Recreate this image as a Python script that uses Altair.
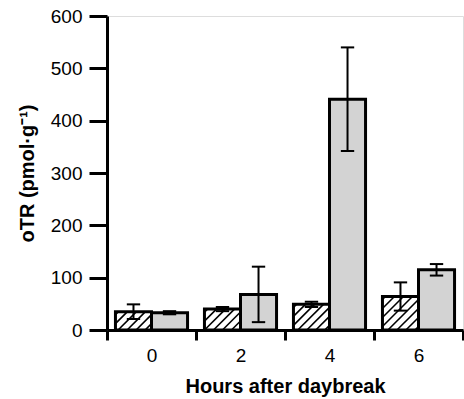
import altair as alt
import pandas as pd

# ---- data ----
hours = [0, 2, 4, 6]
hatched_vals = [35, 40, 49, 64]
hatched_err = [14, 4, 5, 27]
grey_vals = [33, 68, 441, 115]
grey_err = [3, 53, 99, 11]
x_tick_values = [-1, 1, 3, 5, 7]
y_tick_values = list(range(0, 601, 50))

# ---- layout / style ----
W, H = 356, 314
X_DOMAIN = [-1, 7]
Y_DOMAIN = [0, 600]
BAR_W = 0.81          # bar width in hours
CAP_W = 0.15          # half cap width in hours
PX_H = W / (X_DOMAIN[1] - X_DOMAIN[0])
PX_V = H / (Y_DOMAIN[1] - Y_DOMAIN[0])
HATCH_STEP = 9        # px between hatch lines
FONT = "Liberation Sans"

rows = []
for h, v, e in zip(hours, hatched_vals, hatched_err):
    rows.append(dict(hour=h, grp="hatched", x0=h - BAR_W, x1=h, xc=h - BAR_W / 2, v=v, e=e))
for h, v, e in zip(hours, grey_vals, grey_err):
    rows.append(dict(hour=h, grp="grey", x0=h, x1=h + BAR_W, xc=h + BAR_W / 2, v=v, e=e))
df = pd.DataFrame(rows)
df["lo"] = df.v - df.e
df["hi"] = df.v + df.e
df["c0"] = df.xc - CAP_W
df["c1"] = df.xc + CAP_W

# hatch lines "/" derived from the hatched bars, clipped to each bar
hl = []
for _, r in df[df.grp == "hatched"].iterrows():
    bw = BAR_W * PX_H
    hp = r.v * PX_V
    s = -hp + 3
    while s < bw:
        lx, ly = (s, 0.0) if s >= 0 else (0.0, -s)
        if s + hp <= bw:
            ux, uy = s + hp, hp
        else:
            ux, uy = bw, bw - s
        if uy > ly and ux > lx:
            hl.append(dict(xa=r.x0 + lx / PX_H, ya=ly / PX_V, xb=r.x0 + ux / PX_H, yb=uy / PX_V))
        s += HATCH_STEP
hdf = pd.DataFrame(hl)

xscale = alt.Scale(domain=X_DOMAIN, nice=False, zero=False)
yscale = alt.Scale(domain=Y_DOMAIN, nice=False)

base = alt.Chart(df)

bars = base.mark_rect(strokeWidth=0).encode(
    x=alt.X("x0:Q", scale=xscale,
            axis=alt.Axis(values=x_tick_values, title="Hours after daybreak",
                          labelExpr="datum.value < 7 ? format(datum.value + 1, 'd') : ''",
                          labelOffset=PX_H, labelFlush=False, labelOverlap=False,
                          tickSize=10, tickWidth=3, tickColor="black",
                          domainWidth=3, domainColor="black",
                          labelFontSize=19, labelPadding=6, labelFont=FONT, labelColor="black",
                          titleFontSize=20, titleFont=FONT, titleFontWeight="bold", titleColor="black",
                          titlePadding=11, grid=False)),
    x2="x1:Q",
    y=alt.Y("v:Q", scale=yscale,
            axis=alt.Axis(values=y_tick_values, title="oTR (pmol·g⁻¹)",
                          labelExpr="datum.value % 100 === 0 ? datum.label : ''",
                          tickSize={"condition": {"test": "datum.value % 100 !== 0", "value": 10}, "value": 18},
                          tickWidth=3, tickColor="black",
                          domainWidth=3, domainColor="black",
                          labelFontSize=19, labelPadding=7, labelFont=FONT, labelColor="black",
                          titleFontSize=20, titleFont=FONT, titleFontWeight="bold", titleColor="black",
                          titlePadding=13, grid=False)),
    y2=alt.Y2(datum=0),
    color=alt.Color("grp:N", scale=alt.Scale(domain=["hatched", "grey"], range=["white", "#d3d3d3"]), legend=None),
)

hatch = alt.Chart(hdf).mark_rule(color="black", strokeWidth=1.6).encode(
    x=alt.X("xa:Q", scale=xscale), y=alt.Y("ya:Q", scale=yscale),
    x2="xb:Q", y2="yb:Q",
)

outlines = base.mark_rect(fillOpacity=0, stroke="black", strokeWidth=3).encode(
    x=alt.X("x0:Q", scale=xscale), x2="x1:Q",
    y=alt.Y("v:Q", scale=yscale), y2=alt.Y2(datum=0),
)

err = base.mark_rule(color="black", strokeWidth=2).encode(
    x=alt.X("xc:Q", scale=xscale), y=alt.Y("lo:Q", scale=yscale), y2="hi:Q",
)
cap_hi = base.mark_rule(color="black", strokeWidth=2).encode(
    x=alt.X("c0:Q", scale=xscale), x2="c1:Q", y=alt.Y("hi:Q", scale=yscale),
)
cap_lo = base.mark_rule(color="black", strokeWidth=2).encode(
    x=alt.X("c0:Q", scale=xscale), x2="c1:Q", y=alt.Y("lo:Q", scale=yscale),
)

chart = alt.layer(bars, hatch, outlines, err, cap_hi, cap_lo).properties(
    width=W, height=H,
    autosize=alt.AutoSizeParams(type="none"),
    padding={"left": 107, "top": 16, "right": 1, "bottom": 69},
).configure_view(stroke=None).configure(background="white")

chart.save("out.html", embed_options={"renderer": "svg", "actions": False})
